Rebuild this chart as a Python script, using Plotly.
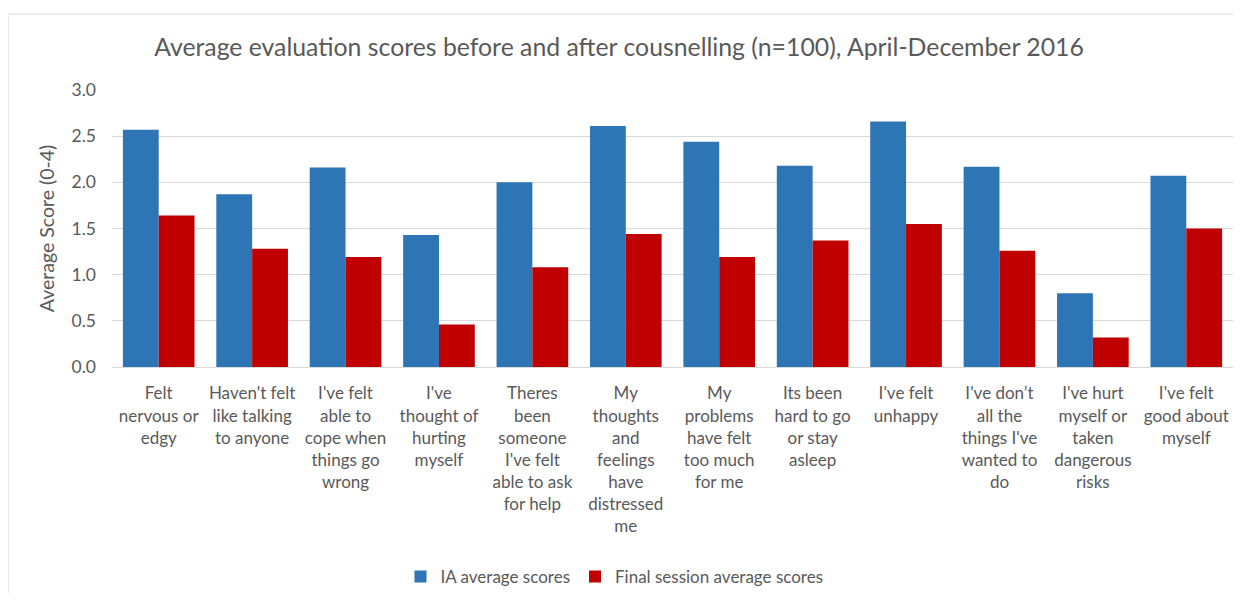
import plotly.graph_objects as go

categories = [
    "Felt<br>nervous or<br>edgy",
    "Haven't felt<br>like talking<br>to anyone",
    "I've felt<br>able to<br>cope when<br>things go<br>wrong",
    "I've<br>thought of<br>hurting<br>myself",
    "Theres<br>been<br>someone<br>I've felt<br>able to ask<br>for help",
    "My<br>thoughts<br>and<br>feelings<br>have<br>distressed<br>me",
    "My<br>problems<br>have felt<br>too much<br>for me",
    "Its been<br>hard to go<br>or stay<br>asleep",
    "I've felt<br>unhappy",
    "I've don’t<br>all the<br>things I've<br>wanted to<br>do",
    "I've hurt<br>myself or<br>taken<br>dangerous<br>risks",
    "I've felt<br>good about<br>myself",
]
ia_scores = [2.57, 1.87, 2.16, 1.43, 2.00, 2.61, 2.44, 2.18, 2.66, 2.17, 0.80, 2.07]
final_scores = [1.64, 1.28, 1.19, 0.46, 1.08, 1.44, 1.19, 1.37, 1.55, 1.26, 0.32, 1.50]
series_names = ["IA average scores", "Final session average scores"]
y_ticks = [0.0, 0.5, 1.0, 1.5, 2.0, 2.5, 3.0]

FONT = "Lato"
GREY = "#595959"

W, H = 1227, 585
L, R, T, B = 104, 2, 82, 226
PW, PH = W - L - R, H - T - B

fig = go.Figure()
fig.add_trace(go.Bar(x=categories, y=ia_scores, name=series_names[0],
                     marker=dict(color="#2E75B6", line=dict(width=0))))
fig.add_trace(go.Bar(x=categories, y=final_scores, name=series_names[1],
                     marker=dict(color="#C00000", line=dict(width=0))))

fig.update_layout(
    width=W, height=H,
    paper_bgcolor="white", plot_bgcolor="white",
    margin=dict(l=L, r=R, t=T, b=B, autoexpand=False),
    barmode="group", bargap=0.233, bargroupgap=0,
    font=dict(family=FONT, color=GREY, size=15),
    title=dict(text="Average evaluation scores before and after cousnelling (n=100), April-December 2016",
               x=611 / W, xanchor="center", y=1 - 39 / H, yanchor="middle",
               font=dict(family=FONT, size=24.8, color=GREY)),
    showlegend=True,
    legend=dict(orientation="h", x=(606.5 - L) / PW, xanchor="center",
                y=(PH - (569 - T)) / PH, yanchor="middle",
                font=dict(family=FONT, size=17, color=GREY), itemwidth=30,
                traceorder="normal"),
    xaxis=dict(tickvals=categories, ticktext=categories, tickangle=0,
               showline=True, linecolor="#D9D9D9", linewidth=1,
               ticks="", ticklabelstandoff=11,
               tickfont=dict(family=FONT, size=17, color=GREY), automargin=False),
    yaxis=dict(range=[0, 3.0], tickvals=y_ticks, tickformat=".1f",
               showgrid=True, gridcolor="#D9D9D9", gridwidth=1,
               zeroline=False, showline=False, ticks="", ticklabelstandoff=15,
               tickfont=dict(family=FONT, size=17.5, color=GREY), automargin=False,
               title=dict(text="Average Score (0-4)", standoff=11,
                          font=dict(family=FONT, size=19.5, color=GREY))),
)

top_y = 1 + (T - 6) / PH
left_x = -L / PW
fig.add_shape(type="line", xref="paper", yref="paper",
              x0=left_x, x1=1.0, y0=top_y, y1=top_y,
              line=dict(color="#D9D9D9", width=1))
fig.add_shape(type="line", xref="paper", yref="paper",
              x0=left_x, x1=left_x, y0=top_y, y1=-(B + 10) / PH,
              line=dict(color="#D9D9D9", width=1))

fig.write_html("out.html")
